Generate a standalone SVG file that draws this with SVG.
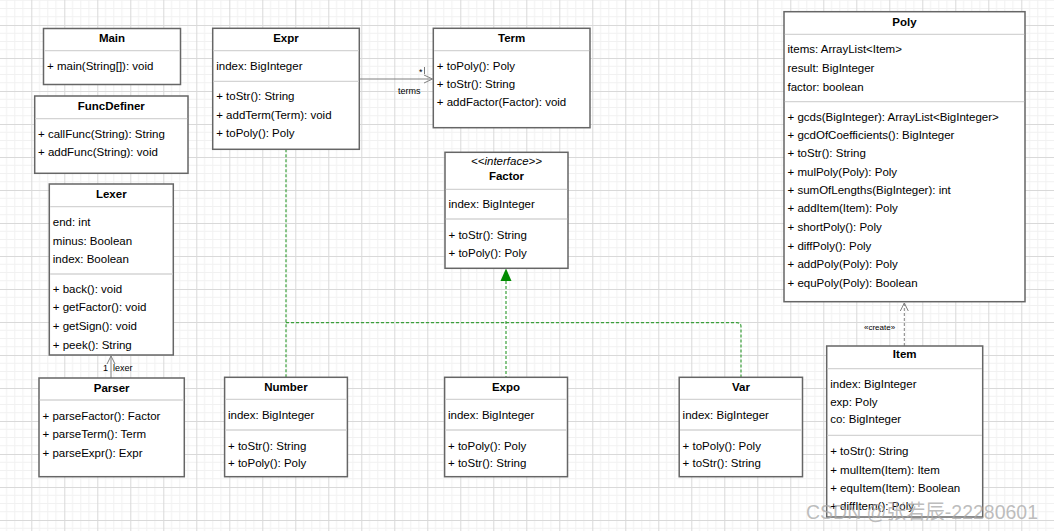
<svg xmlns="http://www.w3.org/2000/svg" width="1054" height="531" viewBox="0 0 1054 531">
<style>
.box{fill:#fff;stroke:#666;stroke-width:1.5}
.sep{stroke:#d4d4d4;stroke-width:1.3}
text{font-family:"Liberation Sans",Arial,sans-serif;font-size:11.5px;fill:#000}
.t{font-weight:bold;text-anchor:middle}
.it{font-style:italic;text-anchor:middle}
.small{font-size:9px}
.assoc{stroke:#808080;stroke-width:1;fill:none}
.real{stroke:#3aa03a;stroke-width:1.2;stroke-dasharray:3 2;fill:none}
</style>
<defs>
<pattern id="grid" x="31.3" y="25" width="33" height="33" patternUnits="userSpaceOnUse">
<path d="M8.25 0V33M16.5 0V33M24.75 0V33M0 8.25H33M0 16.5H33M0 24.75H33" stroke="#f1f1f1" stroke-width="1"/>
<path d="M0.5 0V33M0 0.5H33" stroke="#d9d9d9" stroke-width="1"/>
</pattern>
</defs>
<rect width="1054" height="531" fill="#fff"/>
<rect width="1054" height="531" fill="url(#grid)"/>

<g id="connectors">
<path class="assoc" d="M359.3 79H432.5M424 75L432.5 79L424 83"/>
<text class="small" x="419" y="75">*</text>
<line x1="424.5" y1="67" x2="424.5" y2="74" stroke="#555" stroke-width="0.8"/>
<text class="small" x="398" y="94">terms</text>
<path class="assoc" d="M111 378V356M107 364L111 356L115 364"/>
<text class="small" x="103" y="371">1</text>
<text class="small" x="113" y="371">lexer</text>
<path class="assoc" stroke-dasharray="3 2" d="M904.3 346V303"/>
<path class="assoc" d="M900.3 311L904.3 303L908.3 311"/>
<text class="small" x="864" y="330" style="font-size:8px">«create»</text>
<path class="real" d="M286 149.3V377.3"/>
<path class="real" d="M286 322.7H737Q741 322.7 741 326.7V377.3"/>
<path class="real" d="M506 281V377.3"/>
<polygon points="506,268.6 500.5,281 511.5,281" fill="#008a00"/>
</g>

<g id="Main">
<rect class="box" x="43.5" y="28.5" width="137" height="56"/>
<line class="sep" x1="44.3" y1="50.7" x2="179.7" y2="50.7"/>
<text class="t" x="112" y="41.5">Main</text>
<text x="47" y="69.7">+ main(String[]): void</text>
</g>

<g id="FuncDefiner">
<rect class="box" x="34.7" y="96" width="153.3" height="77.3"/>
<line class="sep" x1="35.5" y1="118.7" x2="187.2" y2="118.7"/>
<text class="t" x="111.3" y="110">FuncDefiner</text>
<text x="38" y="138.3">+ callFunc(String): String</text>
<text x="38" y="156">+ addFunc(String): void</text>
</g>

<g id="Lexer">
<rect class="box" x="49.3" y="184" width="124" height="171"/>
<line class="sep" x1="50.1" y1="206.7" x2="172.5" y2="206.7"/>
<line class="sep" x1="50.1" y1="274" x2="172.5" y2="274"/>
<text class="t" x="111.3" y="198">Lexer</text>
<text x="52.8" y="225.7">end: int</text>
<text x="52.8" y="244.7">minus: Boolean</text>
<text x="52.8" y="263">index: Boolean</text>
<text x="52.8" y="292.7">+ back(): void</text>
<text x="52.8" y="311.3">+ getFactor(): void</text>
<text x="52.8" y="329.7">+ getSign(): void</text>
<text x="52.8" y="348.7">+ peek(): String</text>
</g>

<g id="Parser">
<rect class="box" x="39" y="378" width="145.3" height="98.7"/>
<line class="sep" x1="39.8" y1="400" x2="183.5" y2="400"/>
<text class="t" x="111.7" y="392">Parser</text>
<text x="42.5" y="420">+ parseFactor(): Factor</text>
<text x="42.5" y="438">+ parseTerm(): Term</text>
<text x="42.5" y="456.7">+ parseExpr(): Expr</text>
</g>

<g id="Expr">
<rect class="box" x="212.7" y="28.3" width="146.6" height="121"/>
<line class="sep" x1="213.5" y1="50.7" x2="358.5" y2="50.7"/>
<line class="sep" x1="213.5" y1="81.3" x2="358.5" y2="81.3"/>
<text class="t" x="286" y="41.5">Expr</text>
<text x="216.2" y="69.7">index: BigInteger</text>
<text x="216.2" y="100">+ toStr(): String</text>
<text x="216.2" y="118.5">+ addTerm(Term): void</text>
<text x="216.2" y="137">+ toPoly(): Poly</text>
</g>

<g id="Term">
<rect class="box" x="433.3" y="28.3" width="156.7" height="99.4"/>
<line class="sep" x1="434.1" y1="50.7" x2="589.2" y2="50.7"/>
<text class="t" x="511.7" y="41.5">Term</text>
<text x="436.8" y="69.7">+ toPoly(): Poly</text>
<text x="436.8" y="87.7">+ toStr(): String</text>
<text x="436.8" y="106.3">+ addFactor(Factor): void</text>
</g>

<g id="Factor">
<rect class="box" x="445" y="152.3" width="123" height="116"/>
<line class="sep" x1="445.8" y1="189.3" x2="567.2" y2="189.3"/>
<line class="sep" x1="445.8" y1="219" x2="567.2" y2="219"/>
<text class="it" x="506.5" y="165">&lt;&lt;interface&gt;&gt;</text>
<text class="t" x="506.5" y="180">Factor</text>
<text x="448.5" y="208.3">index: BigInteger</text>
<text x="448.5" y="239">+ toStr(): String</text>
<text x="448.5" y="257.3">+ toPoly(): Poly</text>
</g>

<g id="Number">
<rect class="box" x="224.6" y="377.3" width="122.8" height="99.4"/>
<line class="sep" x1="225.4" y1="399.3" x2="346.6" y2="399.3"/>
<line class="sep" x1="225.4" y1="430" x2="346.6" y2="430"/>
<text class="t" x="286" y="390.7">Number</text>
<text x="228" y="419">index: BigInteger</text>
<text x="228" y="449.7">+ toStr(): String</text>
<text x="228" y="467.3">+ toPoly(): Poly</text>
</g>

<g id="Expo">
<rect class="box" x="444.6" y="377.3" width="122.9" height="99.4"/>
<line class="sep" x1="445.4" y1="399.3" x2="566.7" y2="399.3"/>
<line class="sep" x1="445.4" y1="430" x2="566.7" y2="430"/>
<text class="t" x="506" y="390.7">Expo</text>
<text x="448" y="419">index: BigInteger</text>
<text x="448" y="449.7">+ toPoly(): Poly</text>
<text x="448" y="467.3">+ toStr(): String</text>
</g>

<g id="Var">
<rect class="box" x="679.2" y="377.3" width="123.3" height="99.4"/>
<line class="sep" x1="680" y1="399.3" x2="801.7" y2="399.3"/>
<line class="sep" x1="680" y1="430" x2="801.7" y2="430"/>
<text class="t" x="741" y="390.7">Var</text>
<text x="682.6" y="419">index: BigInteger</text>
<text x="682.6" y="449.7">+ toPoly(): Poly</text>
<text x="682.6" y="467.3">+ toStr(): String</text>
</g>

<g id="Poly">
<rect class="box" x="784" y="11.7" width="241" height="290"/>
<line class="sep" x1="784.8" y1="34.3" x2="1024.2" y2="34.3"/>
<line class="sep" x1="784.8" y1="101.7" x2="1024.2" y2="101.7"/>
<text class="t" x="904.5" y="25.7">Poly</text>
<text x="787.5" y="53.3">items: ArrayList&lt;Item&gt;</text>
<text x="787.5" y="71.7">result: BigInteger</text>
<text x="787.5" y="90.7">factor: boolean</text>
<text x="787.5" y="120.7">+ gcds(BigInteger): ArrayList&lt;BigInteger&gt;</text>
<text x="787.5" y="139">+ gcdOfCoefficients(): BigInteger</text>
<text x="787.5" y="157.3">+ toStr(): String</text>
<text x="787.5" y="175.7">+ mulPoly(Poly): Poly</text>
<text x="787.5" y="194.3">+ sumOfLengths(BigInteger): int</text>
<text x="787.5" y="212.3">+ addItem(Item): Poly</text>
<text x="787.5" y="231.3">+ shortPoly(): Poly</text>
<text x="787.5" y="250">+ diffPoly(): Poly</text>
<text x="787.5" y="268.3">+ addPoly(Poly): Poly</text>
<text x="787.5" y="286.7">+ equPoly(Poly): Boolean</text>
</g>

<g id="Item">
<rect class="box" x="826.7" y="346" width="156" height="171"/>
<line class="sep" x1="827.5" y1="368.7" x2="981.9" y2="368.7"/>
<line class="sep" x1="827.5" y1="435.3" x2="981.9" y2="435.3"/>
<text class="t" x="904.7" y="358.3">Item</text>
<text x="830.2" y="387.7">index: BigInteger</text>
<text x="830.2" y="405.7">exp: Poly</text>
<text x="830.2" y="423.3">co: BigInteger</text>
<text x="830.2" y="455">+ toStr(): String</text>
<text x="830.2" y="474">+ mulItem(Item): Item</text>
<text x="830.2" y="492">+ equItem(Item): Boolean</text>
<text x="830.2" y="510">+ diffItem(): Poly</text>
</g>

<text x="806" y="519" textLength="232" lengthAdjust="spacingAndGlyphs" style="font-family:'Liberation Sans','Noto Sans CJK SC',sans-serif;font-size:20px;fill:#a8a8a8;fill-opacity:0.75">CSDN @张若辰-22280601</text>
</svg>
